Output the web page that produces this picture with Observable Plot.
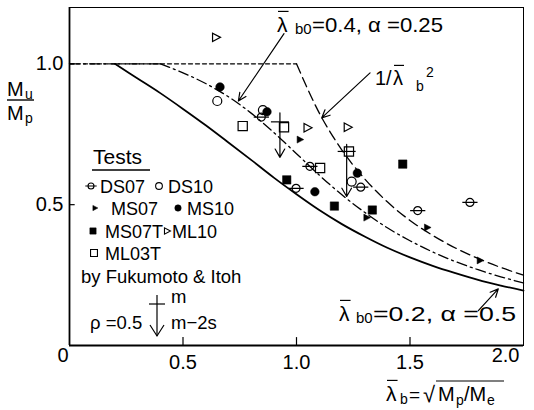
<!DOCTYPE html>
<html><head><meta charset="utf-8">
<script src="https://cdn.jsdelivr.net/npm/d3@7"></script>
<script src="https://cdn.jsdelivr.net/npm/@observablehq/plot@0.6"></script>
<style>body{margin:0;background:#fff}</style>
</head><body><div id="chart"></div>
<script>
const FONT = "'Liberation Sans', Arial, Helvetica, sans-serif";

// ---- curves ----
const lamSolid = [0.2,0.3,0.4,0.5,0.6,0.7,0.8,0.9,1.0,1.1,1.2,1.3,1.4,1.5,1.6,1.7,1.8,1.9,2.0];
const muSolid  = [1.0,0.948,0.896,0.840,0.782,0.721,0.659,0.596,0.537,0.481,0.431,0.387,0.347,0.313,0.283,0.257,0.233,0.213,0.195];
const lamDD = [0.4,0.5,0.6,0.7,0.8,0.9,1.0,1.1,1.2,1.3,1.4,1.5,1.6,1.7,1.8,1.9,2.0];
const muDD  = [1.0,0.968,0.930,0.883,0.825,0.756,0.681,0.605,0.535,0.473,0.418,0.372,0.332,0.298,0.269,0.244,0.222];
const lamDash = [1.0,1.1,1.2,1.3,1.4,1.5,1.6,1.7,1.8,1.9,2.0];
const muDash  = [1.0,0.826,0.694,0.592,0.510,0.444,0.391,0.346,0.309,0.277,0.250];
const lamFlat = [0, 1.0];
const muFlat  = [1.0, 1.0];
const lamFlatDD = [0, 0.4];
const muFlatDD  = [1.0, 1.0];

// ---- test points ----
const ds07X = [0.845,1.059,0.998,1.283,1.534,1.764];
const ds07Y = [0.811,0.636,0.558,0.562,0.479,0.508];
const ds10X = [0.651,0.852,1.243];
const ds10Y = [0.868,0.836,0.582];
const ms07X = [1.015,1.309,1.576,1.808];
const ms07Y = [0.731,0.454,0.419,0.302];
const ms10X = [0.663,0.870,1.081,1.268];
const ms10Y = [0.918,0.830,0.546,0.612];
const ms07tX = [0.957,1.167,1.334,1.468];
const ms07tY = [0.588,0.495,0.481,0.644];
const ml10X = [0.645,1.048,1.225];
const ml10Y = [1.094,0.773,0.775];
const ml03tX = [0.763,0.945,1.231,1.104];
const ml03tY = [0.779,0.775,0.689,0.630];

// ---- Fukumoto & Itoh: mean (m) and m-2s ----
const fiX   = [0.927,1.221];
const fiTop = [0.826,0.714];
const fiM   = [0.794,0.689];
const fiLow = [0.668,0.529];

// ---- annotation arrows (tail -> tip) ----
const annX1 = [0.945,1.324,1.801];
const annY1 = [1.107,0.968,0.124];
const annX2 = [0.744,1.111,1.889];
const annY2 = [0.868,0.808,0.201];

const xTicks = [0.5,1.0,1.5];
const xLastTick = ["2.0"];
const xZero = ["0"];
const yTicks = [0.5,1.0];
const tickMarksX = [0.5,1.0,1.5];
const tickMarksY = [0.5,1.0];

const pts = (xs, ys) => xs.map((x,i)=>({x, y: ys[i]}));

// symbols
const symRightTri = {draw(c,s){const r=Math.sqrt(s/Math.PI); c.moveTo(r*1.1,0); c.lineTo(-r*0.8,-r); c.lineTo(-r*0.8,r); c.closePath();}};
const symBarCircle = {draw(c,s){const r=Math.sqrt(s/Math.PI); c.moveTo(r,0); c.arc(0,0,r,0,2*Math.PI); c.moveTo(-1.9*r,0); c.lineTo(1.9*r,0);}};
const symCircle = {draw(c,s){const r=Math.sqrt(s/Math.PI); c.moveTo(r,0); c.arc(0,0,r,0,2*Math.PI);}};
const symSquare = {draw(c,s){const r=Math.sqrt(s/Math.PI); c.rect(-r,-r,2*r,2*r);}};
const symHBar = {draw(c,s){const r=Math.sqrt(s/Math.PI); c.moveTo(-r,0); c.lineTo(r,0);}};

const series = [
  {name:"DS07", xs:ds07X, ys:ds07Y, sym:symBarCircle, fill:false, r:4},
  {name:"DS10", xs:ds10X, ys:ds10Y, sym:symCircle, fill:false, r:4.5},
  {name:"MS07", xs:ms07X, ys:ms07Y, sym:symRightTri, fill:true, r:3.5},
  {name:"MS10", xs:ms10X, ys:ms10Y, sym:symCircle, fill:true, r:4.3},
  {name:"MS07T", xs:ms07tX, ys:ms07tY, sym:symSquare, fill:true, r:4.2},
  {name:"ML10", xs:ml10X, ys:ml10Y, sym:symRightTri, fill:false, r:4.2},
  {name:"ML03T", xs:ml03tX, ys:ml03tY, sym:symSquare, fill:false, r:4.6}
];

const fi = fiX.map((x,i)=>({x, top: fiTop[i], m: fiM[i], low: fiLow[i]}));
const ann = annX1.map((x,i)=>({x1:x, y1:annY1[i], x2:annX2[i], y2:annY2[i]}));

const plot = Plot.plot({
  width: 534, height: 410,
  marginLeft: 69, marginRight: 11, marginTop: 7, marginBottom: 65,
  x: {domain: [0, 2]},
  y: {domain: [0, 1.2]},
  style: {fontFamily: FONT, fontSize: "20px", color: "black", background: "white"},
  marks: [
    Plot.frame({stroke: "black", strokeWidth: 1}),
    Plot.ruleX([0], {strokeWidth: 1.8}),
    Plot.ruleY([0], {strokeWidth: 1.8}),
    Plot.axisX({ticks: xTicks, tickSize: 0, tickPadding: 9, tickFormat: d3.format(".1f"), label: null}),
    Plot.axisY({ticks: yTicks, tickSize: 0, tickPadding: 6, tickFormat: d3.format(".1f"), label: null}),
    Plot.text(xZero, {frameAnchor: "bottom-left", text: d=>d, dx: -12, dy: 16}),
    Plot.text(xLastTick, {frameAnchor: "bottom-right", text: d=>d, dx: -4, dy: 16}),
    Plot.ruleX(tickMarksX, {y1: 0, y2: 0.028, strokeWidth: 1.2}),
    Plot.ruleY(tickMarksY, {x1: 0, x2: 0.025, strokeWidth: 1.2}),
    Plot.line(pts(lamFlat, muFlat), {x:"x", y:"y", strokeWidth: 1.3, strokeDasharray: "4,3"}),
    Plot.line(pts(lamFlatDD, muFlatDD), {x:"x", y:"y", strokeWidth: 1.3, strokeDasharray: "10,4,2,4"}),
    Plot.line(pts(lamDash, muDash), {x:"x", y:"y", curve: "monotone-x", strokeWidth: 1.3, strokeDasharray: "10,5"}),
    Plot.line(pts(lamDD, muDD), {x:"x", y:"y", curve: "monotone-x", strokeWidth: 1.3, strokeDasharray: "10,4,2,4"}),
    Plot.line(pts(lamSolid, muSolid), {x:"x", y:"y", curve: "monotone-x", strokeWidth: 1.8}),
    ...series.map(s => Plot.dot(pts(s.xs, s.ys), {x:"x", y:"y", symbol: s.sym, r: s.r,
        fill: s.fill ? "black" : "none", stroke: "black", strokeWidth: s.fill ? 0.5 : 1.2})),
    Plot.arrow(fi, {x1:"x", y1:"top", x2:"x", y2:"low", headLength: 12, headAngle: 60, strokeWidth: 1.2}),
    Plot.dot(fi, {x:"x", y:"m", symbol: symHBar, r: 9, stroke: "black", strokeWidth: 1.2}),
    Plot.arrow(ann, {x1:"x1", y1:"y1", x2:"x2", y2:"y2", headLength: 11, headAngle: 50, strokeWidth: 1.2})
  ]
});
document.getElementById("chart").appendChild(plot);

// ---- rich text (legend, annotations, axis titles) ----
const svg = d3.select(plot);
const g = svg.append("g").attr("font-family", FONT).attr("fill", "black");
function txt(x, y, s, size, anchor="start", extra={}) {
  const t = g.append("text").attr("x", x).attr("y", y).attr("font-size", size).attr("text-anchor", anchor).text(s);
  for (const k in extra) t.attr(k, extra[k]);
  return t;
}
function hline(x1, x2, y, w=1.2) {
  g.append("line").attr("x1", x1).attr("x2", x2).attr("y1", y).attr("y2", y).attr("stroke", "black").attr("stroke-width", w);
}
function lambdaBar(x, y, size) {
  txt(x, y, "λ", size);
  hline(x + 1, x + size*0.55, y - size*0.98, 1.2);
}

// Y label: Mu / Mp
txt(7, 96, "M", 20); txt(25, 99, "u", 14);
hline(7, 34, 100, 1.4);
txt(7, 120, "M", 20); txt(25, 123, "p", 14);

// X label
lambdaBar(386, 401, 21); txt(400, 404, "b", 14);
txt(409, 401, "=", 19);
txt(423, 402, "√", 22);
hline(436, 504, 381, 1.2);
txt(438, 401, "M", 20); txt(456, 405, "p", 14); txt(464, 401, "/M", 20); txt(487, 405, "e", 14);

// top annotation
lambdaBar(277, 32, 21); txt(295, 34, "b0", 15);
txt(312, 32, "=0.4, α =0.25", 21, "start", {textLength: 131, lengthAdjust: "spacingAndGlyphs"});
// 1/lambda_b^2
txt(375, 85, "1/", 20);
lambdaBar(393, 85, 20);
txt(416, 91, "b", 14);
txt(426, 77, "2", 14);
// bottom annotation
lambdaBar(339, 321, 21); txt(356, 323, "b0", 15);
txt(373, 321, "=0.2, α =0.5", 21, "start", {textLength: 143, lengthAdjust: "spacingAndGlyphs"});

// legend
txt(93, 164, "Tests", 21);
hline(92, 150, 170, 1.4);
const legendItems = [
  {s: series[0], x: 91, y: 186, tx: 100},
  {s: series[1], x: 159, y: 186, tx: 168},
  {s: series[2], x: 95, y: 208, tx: 111},
  {s: series[3], x: 178, y: 208, tx: 187},
  {s: series[4], x: 93, y: 231, tx: 105},
  {s: series[5], x: 167, y: 231, tx: 172},
  {s: series[6], x: 94, y: 253, tx: 105}
];
for (const it of legendItems) {
  const rr = it.s.r * 0.75;
  g.append("path").attr("d", d3.symbol(it.s.sym, rr*rr*Math.PI)())
    .attr("transform", `translate(${it.x},${it.y})`)
    .attr("fill", it.s.fill ? "black" : "none").attr("stroke", "black").attr("stroke-width", it.s.fill ? 0.5 : 1.1);
  txt(it.tx, it.y + 7, it.s.name, 18);
}
txt(81, 283, "by Fukumoto & Itoh", 18.5);
txt(90, 329, "ρ =0.5", 18.5);
// legend arrow + cross
g.append("line").attr("x1", 157).attr("x2", 157).attr("y1", 295).attr("y2", 336).attr("stroke", "black").attr("stroke-width", 1.2);
hline(149, 165, 304, 1.2);
g.append("path").attr("d", "M150,325 L157,336 L164,325").attr("fill", "none").attr("stroke", "black").attr("stroke-width", 1.2);
txt(171, 303, "m", 18.5);
txt(171, 329, "m−2s", 18.5);
</script></body></html>
